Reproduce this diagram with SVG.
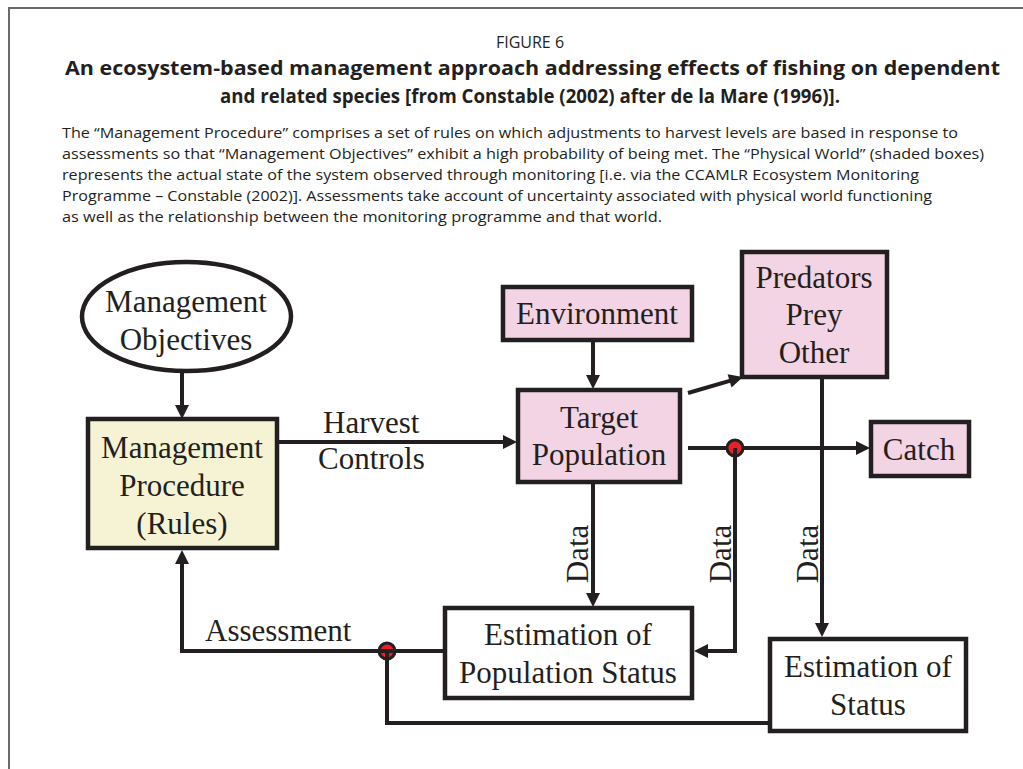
<svg xmlns="http://www.w3.org/2000/svg" width="1023" height="769" viewBox="0 0 1023 769">
<defs>
<style>
.hdr{font-family:"Open Sans","Liberation Sans",sans-serif;fill:#231f20}
.ttl{font-family:"Open Sans","Liberation Sans",sans-serif;font-weight:bold;font-size:20px;fill:#231f20}
.par{font-family:"Open Sans","Liberation Sans",sans-serif;font-size:14px;fill:#231f20}
.lbl{font-family:"Liberation Serif","Times New Roman",serif;font-size:31px;fill:#231f20}
.mid{text-anchor:middle}
.box{stroke:#231f20;stroke-width:4.5}
.pink{fill:#f3d4e4}
.yel{fill:#f5f3d4}
.wht{fill:#ffffff}
.ln{fill:none;stroke:#231f20;stroke-width:4}
.arr{fill:none;stroke:#231f20;stroke-width:4;marker-end:url(#ah)}
.jn{fill:#e8202a;stroke:#231f20;stroke-width:3}
</style>
<marker id="ah" markerUnits="userSpaceOnUse" markerWidth="16" markerHeight="14" refX="1" refY="7" orient="auto" overflow="visible">
<path d="M0,0 L14,7 L0,14 z" fill="#231f20"/>
</marker>
</defs>
<rect width="1023" height="769" fill="#ffffff"/>
<path d="M9,769 V8 H1023" fill="none" stroke="#6a6a6a" stroke-width="2"/>

<g id="caption">
<text class="hdr mid" x="530" y="48" font-size="16">FIGURE 6</text>
<text class="ttl" x="65" y="75" textLength="935" lengthAdjust="spacingAndGlyphs">An ecosystem-based management approach addressing effects of fishing on dependent</text>
<text class="ttl mid" x="530" y="103" textLength="620" lengthAdjust="spacingAndGlyphs">and related species [from Constable (2002) after de la Mare (1996)].</text>
<text class="par" x="62" y="138" textLength="896" lengthAdjust="spacingAndGlyphs">The “Management Procedure” comprises a set of rules on which adjustments to harvest levels are based in response to</text>
<text class="par" x="62" y="159" textLength="922" lengthAdjust="spacingAndGlyphs">assessments so that “Management Objectives” exhibit a high probability of being met. The “Physical World” (shaded boxes)</text>
<text class="par" x="62" y="180" textLength="857" lengthAdjust="spacingAndGlyphs">represents the actual state of the system observed through monitoring [i.e. via the CCAMLR Ecosystem Monitoring</text>
<text class="par" x="62" y="201" textLength="870" lengthAdjust="spacingAndGlyphs">Programme – Constable (2002)]. Assessments take account of uncertainty associated with physical world functioning</text>
<text class="par" x="62" y="222" textLength="600" lengthAdjust="spacingAndGlyphs">as well as the relationship between the monitoring programme and that world.</text>
</g>

<g id="connectors">
<line class="arr" x1="182" y1="373" x2="182" y2="406"/>
<line class="arr" x1="277" y1="442" x2="504" y2="442"/>
<line class="arr" x1="593" y1="340" x2="593" y2="376"/>
<line class="arr" x1="688" y1="393" x2="730.5" y2="380.6"/>
<line class="arr" x1="688" y1="448" x2="857" y2="448"/>
<line class="arr" x1="593" y1="482" x2="593" y2="594"/>
<line class="arr" x1="822" y1="377" x2="822" y2="624"/>
<path class="arr" d="M445,651 H182 V563"/>
<path class="ln" d="M387,651 V723 H770"/>
<circle class="jn" cx="735" cy="448" r="8"/>
<path class="arr" d="M735,448 V651 H707"/>
<circle class="jn" cx="387" cy="651" r="8"/>
<line class="ln" x1="379" y1="651" x2="395" y2="651" stroke-width="3.5"/>
<line class="ln" x1="387" y1="651" x2="387" y2="660"/>
<text class="lbl" x="323" y="433">Harvest</text>
<text class="lbl" x="318" y="469">Controls</text>
<text class="lbl" x="205" y="641">Assessment</text>
<text class="lbl mid" font-size="30" transform="translate(588,554) rotate(-90)">Data</text>
<text class="lbl mid" font-size="30" transform="translate(731,554) rotate(-90)">Data</text>
<text class="lbl mid" font-size="30" transform="translate(818,554) rotate(-90)">Data</text>
</g>

<g id="management-objectives">
<ellipse class="box wht" cx="186.5" cy="316.5" rx="104.5" ry="54.5" stroke-width="4"/>
<text class="lbl mid" x="186" y="312">Management</text>
<text class="lbl mid" x="186" y="350">Objectives</text>
</g>

<g id="management-procedure">
<rect class="box yel" x="88" y="419" width="189" height="129"/>
<text class="lbl mid" x="182" y="458">Management</text>
<text class="lbl mid" x="182" y="496">Procedure</text>
<text class="lbl mid" x="182" y="534">(Rules)</text>
</g>

<g id="environment">
<rect class="box pink" x="503" y="287" width="189" height="53"/>
<text class="lbl mid" x="597" y="324">Environment</text>
</g>

<g id="target-population">
<rect class="box pink" x="518" y="390" width="162" height="92"/>
<text class="lbl mid" x="599" y="428">Target</text>
<text class="lbl mid" x="599" y="465">Population</text>
</g>

<g id="predators">
<rect class="box pink" x="742" y="252" width="145" height="125"/>
<text class="lbl mid" x="814" y="288">Predators</text>
<text class="lbl mid" x="814" y="325">Prey</text>
<text class="lbl mid" x="814" y="363">Other</text>
</g>

<g id="catch">
<rect class="box pink" x="871" y="422" width="98" height="54"/>
<text class="lbl mid" x="919" y="460">Catch</text>
</g>

<g id="estimation-population">
<rect class="box wht" x="445" y="608" width="247" height="90"/>
<text class="lbl mid" x="568" y="645">Estimation of</text>
<text class="lbl mid" x="568" y="683">Population Status</text>
</g>

<g id="estimation-status">
<rect class="box wht" x="770" y="639" width="196" height="92"/>
<text class="lbl mid" x="868" y="677">Estimation of</text>
<text class="lbl mid" x="868" y="715">Status</text>
</g>
</svg>
